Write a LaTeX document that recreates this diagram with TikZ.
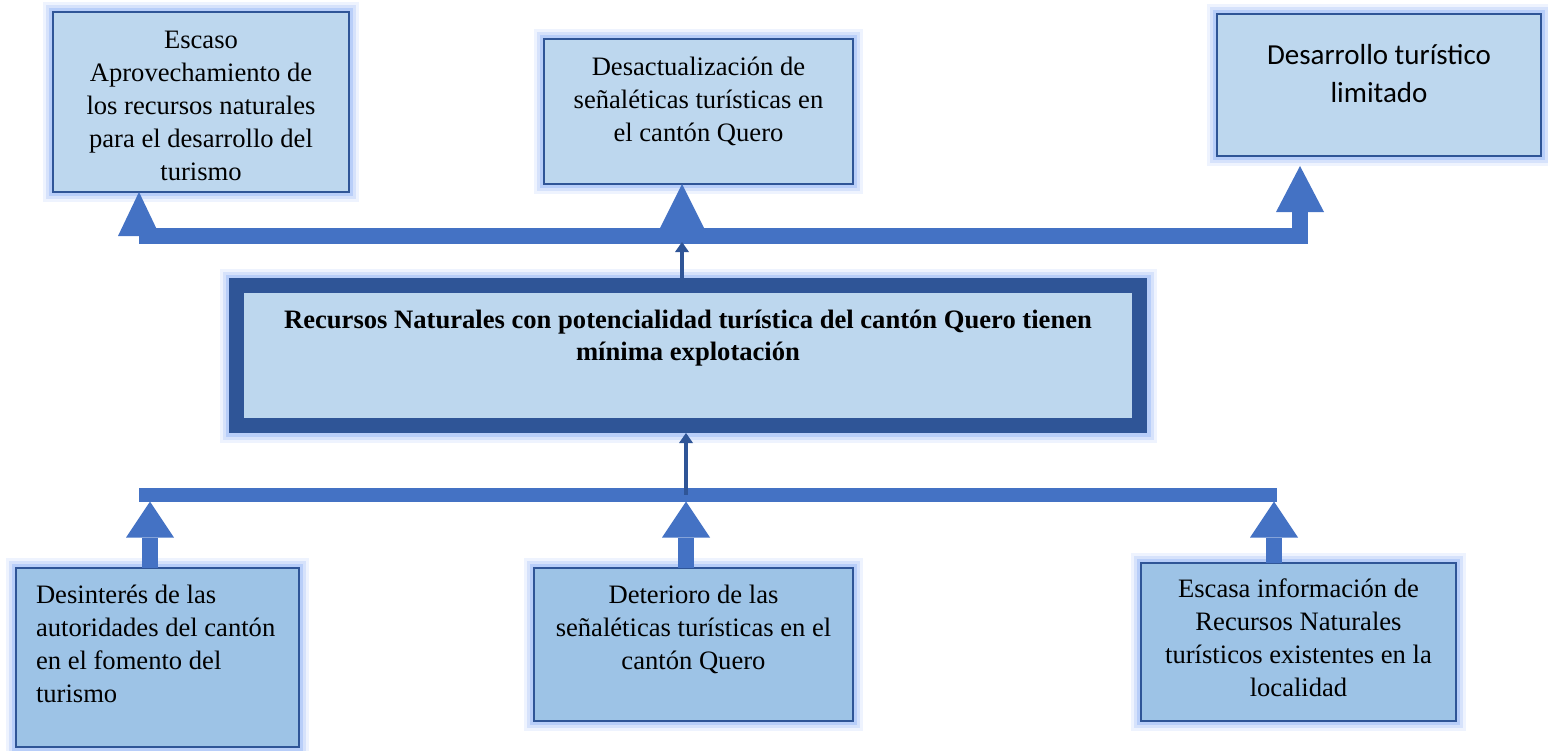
\documentclass[tikz,border=0pt]{standalone}
\usepackage{fontspec}
\setmainfont{Liberation Serif}
\newfontfamily\calibri{Carlito}
\usetikzlibrary{arrows.meta}

\definecolor{barraazul}{RGB}{68,114,196}
\definecolor{bordeazul}{RGB}{47,85,151}
\definecolor{celeste}{RGB}{189,215,238}
\definecolor{celesteosc}{RGB}{157,195,230}
\definecolor{brillo}{RGB}{140,175,245}

\begin{document}
\begin{tikzpicture}
        [x=0.5pt, y=-0.5pt,
        font=\fontsize{13.3}{16.5}\selectfont,
        resplandor/.style={preaction={draw=brillo, line width=10pt, opacity=.15},
                preaction={draw=brillo, line width=7pt, opacity=.25},
                preaction={draw=brillo, line width=4pt, opacity=.4}},
        efecto/.style={draw=bordeazul, line width=1.2pt, fill=celeste, resplandor,
                inner sep=0pt, outer sep=0pt, anchor=north west},
        causa/.style={efecto, fill=celesteosc},
        problema/.style={draw=bordeazul, line width=7.5pt, fill=celeste, inner sep=0pt,
                outer sep=0pt, anchor=north west,
                preaction={draw=brillo, line width=17pt, opacity=.15},
                preaction={draw=brillo, line width=14pt, opacity=.25},
                preaction={draw=brillo, line width=11pt, opacity=.4}},
        barra/.style={draw=barraazul, line width=8pt},
        hilo/.style={draw=bordeazul, line width=1.6pt,
                -{Triangle[length=5pt, width=7pt, line width=0pt]}}]

        \useasboundingbox (0,0) rectangle (1548,750);

        % efectos
        \node[efecto] (e1) at (53,12) {\parbox[t][90pt][t]{148pt}{\centering
                \rule{0pt}{18pt}Escaso\\ Aprovechamiento de\\ los recursos naturales\\
                para el desarrollo del\\ turismo}};
        \node[efecto] (e2) at (544,39) {\parbox[t][72.5pt][t]{154.5pt}{\centering
                \rule{0pt}{18pt}Desactualización de\\ señaléticas turísticas en\\
                el cantón Quero}};
        \node[efecto] (e3) at (1217,14) {\parbox[t][71pt][t]{162pt}{%
                \calibri\fontsize{14.5}{19}\selectfont\centering
                \rule{0pt}{25pt}Desarrollo turístico\\ limitado}};

        % problema central
        \node[problema] (p) at (236.5,285.5) {\parbox[t][70pt][t]{451.5pt}{\centering
                \bfseries\fontsize{13.3}{16}\selectfont
                \rule{0pt}{21.25pt}Recursos Naturales con potencialidad turística del cantón Quero tienen\\
                mínima explotación}};

        % causas
        \node[causa, inner xsep=10pt] (c1) at (16,568) {\parbox[t][89.5pt][t]{121.5pt}{\raggedright
                \rule{0pt}{17.5pt}Desinterés de las\\ autoridades del cantón\\
                en el fomento del\\ turismo}};
        \node[causa] (c2) at (534,568) {\parbox[t][76.5pt][t]{159.5pt}{\centering
                \rule{0pt}{17.5pt}Deterioro de las\\ señaléticas turísticas en el\\
                cantón Quero}};
        \node[causa] (c3) at (1141,563) {\parbox[t][79pt][t]{157.5pt}{\centering
                \rule{0pt}{17pt}Escasa información de\\ Recursos Naturales\\
                turísticos existentes en la\\ localidad}};

        % barras
        \coordinate (s1) at (139,236);
        \coordinate (s2) at (682,236);
        \coordinate (s3) at (1300,236);
        \coordinate (bi) at (139,494.5);
        \coordinate (bd) at (1277,494.5);
        \coordinate (i1) at (150,494.5);
        \coordinate (i2) at (686,494.5);
        \coordinate (i3) at (1274,494.5);

        \draw[barra, -{Triangle[length=23pt, width=24pt, line width=0pt]}, shorten >=5pt]
                (s1) -- (s3) -- (s3 |- e3.south);
        \draw[barra, -{Triangle[length=22pt, width=21pt, line width=0pt]}]
                (s1) -- (s1 |- e1.south);
        \draw[barra, -{Triangle[length=22pt, width=22pt, line width=0pt]}]
                (s2) -- (s2 |- e2.south);

        \draw[barra, line width=7pt] (bi) -- (bd);
        \draw[barra, -{Triangle[length=18pt, width=24pt, line width=0pt]}, shorten >=3.5pt]
                (i1 |- c1.north) -- (i1);
        \draw[barra, -{Triangle[length=18pt, width=24pt, line width=0pt]}, shorten >=3.5pt]
                (i2 |- c2.north) -- (i2);
        \draw[barra, -{Triangle[length=18pt, width=24pt, line width=0pt]}, shorten >=3.5pt]
                (i3 |- c3.north) -- (i3);

        % flechas finas
        \draw[hilo, shorten <=3.75pt, shorten >=3pt] (s2 |- p.north) -- (s2);
        \draw[hilo, shorten >=3.75pt] (i2) -- (i2 |- p.south);
\end{tikzpicture}
\end{document}
